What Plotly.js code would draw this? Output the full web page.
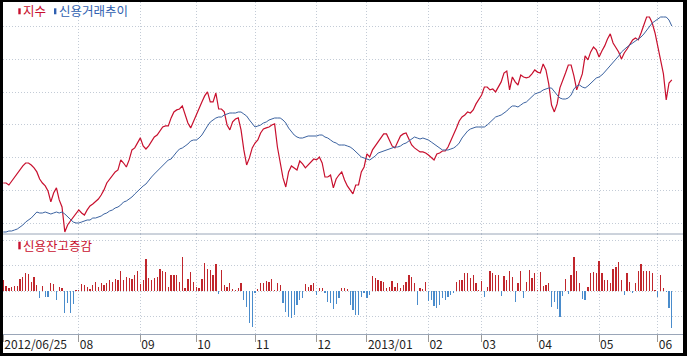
<!DOCTYPE html>
<html><head><meta charset="utf-8">
<script src="https://cdn.plot.ly/plotly-3.0.1.min.js"></script>
<style>
html,body{margin:0;padding:0;background:#000;width:687px;height:356px;overflow:hidden}
#chart{position:absolute;left:3px;top:2px;width:680px;height:351px;background:#fff}
</style></head><body><div id="chart"></div>
<script>
// KOSDAQ index (red line)
const kosdaq = [
492.0,492.0,490.9,493.1,495.3,497.0,499.2,501.4,503.0,503.0,
501.9,500.3,498.1,494.2,492.0,490.4,487.6,481.6,486.5,489.3,
482.7,478.8,465.1,468.9,471.1,473.3,475.5,477.2,475.5,474.4,
477.2,479.4,480.5,481.6,483.2,485.4,488.2,492.0,494.2,495.9,
498.1,499.2,504.7,503.0,500.8,504.7,510.2,511.3,514.0,516.8,
512.4,510.7,512.4,514.6,517.3,518.4,520.6,522.8,523.4,523.4,
527.8,531.1,532.2,532.7,534.4,529.4,525.0,522.3,526.1,530.0,
533.3,536.6,539.9,542.1,536.6,536.6,541.5,532.7,532.7,531.1,
523.9,521.2,525.6,527.2,527.8,521.2,510.2,501.9,505.8,511.3,
514.0,515.7,519.5,521.7,522.3,522.8,523.9,524.5,511.8,502.5,
494.8,489.8,498.1,501.4,500.3,499.2,504.1,502.5,500.3,501.9,
503.0,505.2,504.7,506.3,503.0,495.3,495.3,496.4,489.3,494.2,
496.4,498.1,493.7,490.4,488.2,486.0,490.9,490.9,498.1,500.8,
508.0,506.3,510.2,512.4,514.6,516.8,519.0,519.0,515.7,512.4,
511.3,514.6,517.9,519.0,519.5,516.2,512.9,511.3,510.2,509.1,
509.1,508.5,507.4,506.3,504.7,508.0,508.5,509.6,509.6,511.8,
515.1,518.4,522.3,526.1,528.3,529.4,531.1,530.5,532.2,535.5,
538.2,540.4,544.8,544.8,543.2,543.7,542.1,544.8,547.6,552.5,
553.6,543.2,550.3,547.6,545.9,551.4,550.3,549.8,550.3,552.0,
554.2,553.0,552.5,557.5,554.2,546.5,534.9,531.1,535.5,544.3,
548.1,552.5,556.9,556.9,550.9,543.2,547.6,552.0,561.9,559.7,
564.1,566.8,565.2,561.3,564.6,567.4,571.2,574.0,569.0,566.3,
564.1,560.2,563.5,565.7,568.5,570.7,571.8,570.7,574.5,578.4,
583.3,583.3,580.0,574.5,566.3,560.2,552.0,537.7,547.0,548.7];

// credit balance trend (blue line)
const creditBalance = [
20000,20000,20010,20010,20020,20030,20050,20070,20100,20120,
20140,20170,20200,20190,20190,20200,20190,20180,20190,20200,
20190,20200,20180,20150,20130,20100,20090,20090,20100,20110,
20120,20120,20140,20140,20150,20160,20180,20190,20210,20220,
20240,20250,20270,20300,20310,20330,20350,20380,20410,20440,
20460,20480,20520,20550,20580,20610,20630,20660,20700,20720,
20730,20770,20800,20830,20840,20860,20880,20910,20920,20920,
20940,20970,21020,21060,21100,21120,21140,21150,21150,21170,
21180,21190,21190,21190,21200,21200,21180,21160,21120,21080,
21050,21060,21070,21090,21100,21120,21130,21140,21140,21140,
21120,21090,21040,21000,20970,20950,20940,20940,20950,20960,
20960,20960,20960,20970,20970,20950,20940,20920,20900,20890,
20870,20870,20870,20860,20850,20830,20800,20770,20750,20740,
20730,20720,20740,20760,20790,20800,20810,20820,20830,20840,
20850,20850,20860,20880,20890,20910,20930,20950,20940,20930,
20940,20930,20920,20900,20880,20860,20840,20820,20820,20820,
20830,20840,20860,20890,20940,20980,21010,21030,21040,21050,
21050,21050,21050,21070,21100,21120,21150,21160,21170,21190,
21210,21240,21260,21260,21250,21270,21290,21300,21330,21350,
21380,21390,21400,21420,21430,21440,21440,21400,21370,21340,
21330,21330,21340,21370,21430,21460,21470,21450,21440,21460,
21490,21520,21540,21550,21570,21600,21630,21660,21690,21730,
21760,21800,21830,21850,21870,21890,21910,21930,21950,21980,
22020,22060,22090,22110,22130,22150,22150,22150,22120,22060];

// daily change of credit balance (bars)
const creditChange = [
110,50,30,40,50,50,120,140,180,170,
90,140,60,-70,50,-60,-60,80,70,-90,
40,30,-220,-120,-220,-130,10,10,70,60,
40,20,60,90,40,80,60,80,110,90,
120,110,200,110,140,130,120,160,200,70,
110,320,130,110,130,140,220,200,190,40,
160,160,160,90,340,30,120,190,90,40,
30,120,280,220,210,160,270,-30,210,60,
40,80,20,10,30,80,-90,-160,-320,-360,
-20,20,80,80,100,90,120,10,80,60,
-120,-210,-260,-270,-240,-140,-90,-70,70,40,
60,80,-40,30,30,-20,-110,-120,-180,-130,
-70,30,30,20,-140,-190,-240,-240,-60,-20,
-70,-40,150,130,110,100,90,30,40,100,
40,80,30,60,90,160,140,80,-140,30,
20,90,-100,-90,-150,-170,-140,-70,-90,-60,
-40,-20,90,110,110,180,180,130,160,80,
10,100,-60,40,200,180,160,160,-50,150,
110,200,140,-110,80,200,-70,90,210,130,
180,10,190,50,60,80,-160,-110,-180,-260,
-50,120,-30,160,340,200,80,-80,-90,40,
180,190,180,300,180,110,110,80,220,240,
290,110,-40,180,90,-20,80,200,270,200,
200,200,180,10,-60,160,30,-10,-170,-370];

// month ticks (trading-day index) and labels
const tickIdx = [0,27,49,69,90,112,130,152,171,191,213,234];
const tickLabels = ['2012/06/25','08','09','10','11','12','2013/01','02','03','04','05','06'];

const days = kosdaq.map((_, i) => i);
const RED = '#c8102e', BLUE = '#3b62a0';
const GRID = '#c3cbd6';
const split = 0.3012;

const traces = [
  {x: days, y: creditBalance, type: 'scatter', mode: 'lines', xaxis: 'x', yaxis: 'y2',
   line: {color: BLUE, width: 1}, hoverinfo: 'skip'},
  {x: days, y: kosdaq, type: 'scatter', mode: 'lines', xaxis: 'x', yaxis: 'y',
   line: {color: RED, width: 1.2}, hoverinfo: 'skip'},
  {x: days, y: creditChange, type: 'bar', xaxis: 'x', yaxis: 'y3', width: 0.45,
   marker: {color: creditChange.map(v => v >= 0 ? '#c0262c' : '#4a8ccc'), line: {width: 0}},
   hoverinfo: 'skip'}
];

const gridStyle = {showgrid: true, gridcolor: GRID, gridwidth: 1, griddash: '1px,2px'};

const layout = {
  width: 680, height: 351,
  margin: {l: 0, r: 0, t: 0, b: 19},
  paper_bgcolor: '#fff', plot_bgcolor: '#fff',
  showlegend: false, bargap: 0,
  xaxis: Object.assign({
    range: [-0.1, 243.0], anchor: 'y3', tickmode: 'array', tickvals: tickIdx, ticktext: tickLabels,
    ticks: 'outside', ticklen: 7, tickcolor: '#9a9a9a', tickwidth: 1,
    showline: true, linecolor: '#9aa6b8', linewidth: 1, zeroline: false,
    ticklabelposition: 'outside right',
    tickfont: {family: 'Noto Sans CJK KR, sans-serif', size: 12, color: '#222'}
  }, gridStyle),
  yaxis: Object.assign({
    domain: [split, 1], range: [463.95, 591.55], tick0: 470, dtick: 18,
    showticklabels: false, zeroline: false, ticks: ''
  }, gridStyle),
  yaxis2: {overlaying: 'y', range: [19980, 22300], showgrid: false, showticklabels: false,
    zeroline: false, ticks: ''},
  yaxis3: Object.assign({
    domain: [0, split], range: [-430, 570], tick0: 0, dtick: 255,
    showticklabels: false, zeroline: false, ticks: ''
  }, gridStyle),
  shapes: [
    {type: 'line', xref: 'paper', yref: 'paper', x0: 0, x1: 1, y0: split, y1: split,
     line: {color: '#9aa6b8', width: 1}},
    {type: 'rect', xref: 'paper', yref: 'paper', x0: 0.0225, x1: 0.026, y0: 0.963, y1: 0.981,
     fillcolor: RED, line: {width: 0}},
    {type: 'rect', xref: 'paper', yref: 'paper', x0: 0.075, x1: 0.0785, y0: 0.963, y1: 0.981,
     fillcolor: '#2f5fb0', line: {width: 0}},
    {type: 'rect', xref: 'paper', yref: 'paper', x0: 0.0225, x1: 0.026, y0: 0.255, y1: 0.278,
     fillcolor: RED, line: {width: 0}}
  ],
  annotations: [
    {xref: 'paper', yref: 'paper', x: 0.027, y: 0.9729, xanchor: 'left', yanchor: 'middle',
     text: '지수', showarrow: false,
     font: {family: 'Noto Sans CJK KR, sans-serif', size: 12.5, color: RED}},
    {xref: 'paper', yref: 'paper', x: 0.079, y: 0.9729, xanchor: 'left', yanchor: 'middle',
     text: '신용거래추이', showarrow: false,
     font: {family: 'Noto Sans CJK KR, sans-serif', size: 12.5, color: '#2f5fb0'}},
    {xref: 'paper', yref: 'paper', x: 0.027, y: 0.267, xanchor: 'left', yanchor: 'middle',
     text: '신용잔고증감', showarrow: false,
     font: {family: 'Noto Sans CJK KR, sans-serif', size: 12.5, color: RED}}
  ]
};

Plotly.newPlot('chart', traces, layout, {staticPlot: true, displayModeBar: false});
</script></body></html>
